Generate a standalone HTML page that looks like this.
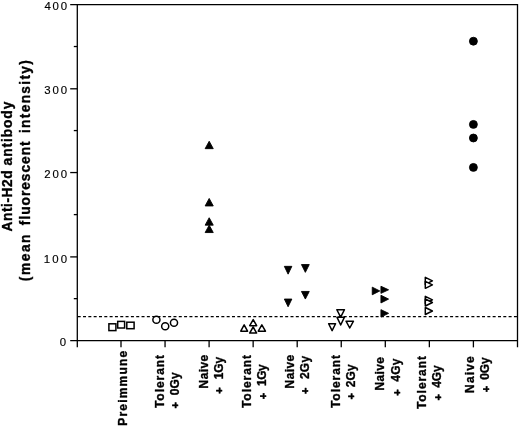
<!DOCTYPE html>
<html><head><meta charset="utf-8"><title>Anti-H2d antibody</title>
<style>
html,body{margin:0;padding:0;background:#fff;}
svg{display:block;}
text{font-family:"Liberation Sans",Arial,Helvetica,sans-serif;fill:#000;}
.b{font-weight:bold;stroke:#000;stroke-width:0.35px;stroke-linejoin:round;}
.p{stroke-width:0.6px;}
.n{stroke:#000;stroke-width:0.15px;}
</style></head>
<body>
<svg width="520" height="426" viewBox="0 0 520 426">
<rect width="520" height="426" fill="#fff"/>
<g stroke="#000" stroke-width="1.3" fill="none" stroke-linecap="butt">
<path d="M70.2,4.6 H517.5 V347.37"/>
<path d="M77.3,4.00 V347.37"/>
<path d="M70.2,340.67 H517.5"/>
<path d="M70.2,256.90 H77.3"/>
<path d="M70.2,172.56 H77.3"/>
<path d="M70.2,88.80 H77.3"/>
<path d="M73.8,298.65 H77.3"/>
<path d="M73.8,214.61 H77.3"/>
<path d="M73.8,130.57 H77.3"/>
<path d="M73.8,46.53 H77.3"/>
<path d="M121.00,340.67 V347.37"/>
<path d="M165.05,340.67 V347.37"/>
<path d="M209.10,340.67 V347.37"/>
<path d="M253.15,340.67 V347.37"/>
<path d="M297.20,340.67 V347.37"/>
<path d="M341.25,340.67 V347.37"/>
<path d="M385.30,340.67 V347.37"/>
<path d="M429.35,340.67 V347.37"/>
<path d="M473.40,340.67 V347.37"/>
</g>
<path d="M77.7,316.55 H517.5" stroke="#000" stroke-width="1.3" stroke-dasharray="3 2.32" fill="none"/>
<text class="n" x="44.44" y="10.20" font-size="11.4" style="letter-spacing:1.793px">400</text>
<text class="n" x="44.27" y="94.40" font-size="11.4" style="letter-spacing:1.880px">300</text>
<text class="n" x="44.13" y="178.16" font-size="11.4" style="letter-spacing:1.949px">200</text>
<text class="n" x="43.83" y="262.50" font-size="11.4" style="letter-spacing:2.097px">100</text>
<text class="n" x="59.85" y="346.27" font-size="11.4">0</text>
<text class="b" transform="translate(20.00,170.00) rotate(-90)"><tspan x="-61.54" y="-8.20" font-size="13.8" style="letter-spacing:0.537px">Anti-H2d</tspan> <tspan x="4.60" y="-8.20" font-size="13.8" style="letter-spacing:0.897px">antibody</tspan> <tspan x="-111.19" y="9.80" font-size="13.8" style="letter-spacing:1.524px">(mean</tspan> <tspan x="-55.14" y="9.80" font-size="13.8" style="letter-spacing:0.942px">fluorescent</tspan> <tspan x="36.94" y="9.80" font-size="13.8" style="letter-spacing:1.290px">intensity)</tspan> </text>
<text class="b" transform="translate(121.00,340.67) rotate(-90)"><tspan x="-85.13" y="6.40" font-size="12" style="letter-spacing:1.201px">Preimmune</tspan> </text>
<text class="b" transform="translate(165.05,340.67) rotate(-90)"><tspan x="-67.36" y="-1.05" font-size="12" style="letter-spacing:0.949px">Tolerant</tspan> <tspan class="p" x="-67.79" y="14.40" font-size="11">+</tspan> <tspan x="-54.60" y="13.55" font-size="12" style="letter-spacing:0.179px">0Gy</tspan> </text>
<text class="b" transform="translate(209.10,340.67) rotate(-90)"><tspan x="-47.73" y="-1.10" font-size="12" style="letter-spacing:0.373px">Naive</tspan> <tspan class="p" x="-52.99" y="14.35" font-size="11">+</tspan> <tspan x="-38.69" y="13.50" font-size="12" style="letter-spacing:-0.031px">1Gy</tspan> </text>
<text class="b" transform="translate(253.15,340.67) rotate(-90)"><tspan x="-67.36" y="-2.25" font-size="12" style="letter-spacing:0.949px">Tolerant</tspan> <tspan class="p" x="-58.64" y="13.50" font-size="11">+</tspan> <tspan x="-45.39" y="12.65" font-size="12" style="letter-spacing:-0.431px">1Gy</tspan> </text>
<text class="b" transform="translate(297.20,340.67) rotate(-90)"><tspan x="-47.73" y="-3.20" font-size="12" style="letter-spacing:0.373px">Naive</tspan> <tspan class="p" x="-53.29" y="12.25" font-size="11">+</tspan> <tspan x="-38.35" y="11.40" font-size="12" style="letter-spacing:0.199px">2Gy</tspan> </text>
<text class="b" transform="translate(341.25,340.67) rotate(-90)"><tspan x="-67.36" y="-1.25" font-size="12" style="letter-spacing:0.949px">Tolerant</tspan> <tspan class="p" x="-58.79" y="14.20" font-size="11">+</tspan> <tspan x="-46.55" y="13.35" font-size="12" style="letter-spacing:0.149px">2Gy</tspan> </text>
<text class="b" transform="translate(385.30,340.67) rotate(-90)"><tspan x="-49.93" y="-0.90" font-size="12" style="letter-spacing:0.373px">Naive</tspan> <tspan class="p" x="-54.99" y="15.35" font-size="11">+</tspan> <tspan x="-41.11" y="14.50" font-size="12" style="letter-spacing:0.232px">4Gy</tspan> </text>
<text class="b" transform="translate(429.35,340.67) rotate(-90)"><tspan x="-68.36" y="-2.95" font-size="12" style="letter-spacing:0.935px">Tolerant</tspan> <tspan class="p" x="-59.84" y="12.80" font-size="11">+</tspan> <tspan x="-47.11" y="11.95" font-size="12" style="letter-spacing:-0.168px">4Gy</tspan> </text>
<text class="b" transform="translate(473.40,340.67) rotate(-90)"><tspan x="-52.23" y="0.50" font-size="12" style="letter-spacing:1.123px">Naive</tspan> <tspan class="p" x="-51.49" y="16.25" font-size="11">+</tspan> <tspan x="-39.10" y="15.40" font-size="12" style="letter-spacing:-0.171px">0Gy</tspan> </text>
<g stroke="#000" stroke-width="1.5" fill="#fff">
<rect x="108.90" y="323.80" width="7.00" height="6.80"/>
<rect x="117.70" y="321.40" width="6.90" height="6.60"/>
<rect x="126.80" y="322.20" width="7.30" height="6.50"/>
<circle cx="156.4" cy="319.8" r="3.55"/>
<circle cx="165.2" cy="326.3" r="3.55"/>
<circle cx="174.0" cy="322.8" r="3.55"/>
<path d="M240.75,331.15 L247.55,331.15 L244.15,324.80 Z" stroke-linejoin="round"/>
<path d="M249.75,325.65 L256.65,325.65 L253.20,319.60 Z" stroke-linejoin="round"/>
<path d="M249.65,333.05 L256.65,333.05 L253.15,327.00 Z" stroke-linejoin="round"/>
<path d="M258.25,331.15 L265.45,331.15 L261.85,324.80 Z" stroke-linejoin="round"/>
<path d="M336.85,309.75 L344.45,309.75 L340.65,317.20 Z" stroke-linejoin="round"/>
<path d="M336.95,317.15 L344.45,317.15 L340.70,325.00 Z" stroke-linejoin="round"/>
<path d="M328.65,323.75 L335.55,323.75 L332.10,330.60 Z" stroke-linejoin="round"/>
<path d="M346.05,321.15 L353.45,321.15 L349.75,328.00 Z" stroke-linejoin="round"/>
<path d="M425.30,277.40 L425.30,284.40 L432.40,280.90 Z" stroke-linejoin="round"/>
<path d="M425.30,281.30 L425.30,288.30 L432.40,284.80 Z" stroke-linejoin="round"/>
<path d="M425.30,296.40 L425.30,303.40 L432.40,299.90 Z" stroke-linejoin="round"/>
<path d="M425.30,299.00 L425.30,306.00 L432.40,302.50 Z" stroke-linejoin="round"/>
<path d="M425.30,307.50 L425.30,314.50 L432.40,311.00 Z" stroke-linejoin="round"/>
</g>
<g fill="#000" stroke="#000" stroke-width="0.9" stroke-linejoin="round">
<path d="M205.15,148.65 L213.25,148.65 L209.2,141.25 Z"/>
<path d="M205.15,205.95 L213.25,205.95 L209.2,198.45 Z"/>
<path d="M205.15,225.15 L213.25,225.15 L209.2,217.75 Z"/>
<path d="M205.15,232.55 L213.25,232.55 L209.2,225.15 Z"/>
<path d="M284.35,266.35 L291.85,266.35 L288.10,274.15 Z"/>
<path d="M301.45,264.55 L309.25,264.55 L305.35,272.35 Z"/>
<path d="M301.45,291.45 L309.25,291.45 L305.35,299.05 Z"/>
<path d="M284.35,299.05 L291.85,299.05 L288.10,306.75 Z"/>
<path d="M372.25,287.15 L372.25,294.75 L379.75,290.95 Z"/>
<path d="M380.95,286.25 L380.95,293.35 L388.55,289.80 Z"/>
<path d="M380.95,295.25 L380.95,302.95 L388.55,299.10 Z"/>
<path d="M380.95,309.65 L380.95,317.05 L388.55,313.35 Z"/>
<circle cx="473.4" cy="41.2" r="3.95"/>
<circle cx="473.4" cy="124.4" r="3.95"/>
<circle cx="473.4" cy="138" r="3.95"/>
<circle cx="473.4" cy="167.4" r="3.95"/>
</g>
</svg>
</body></html>
